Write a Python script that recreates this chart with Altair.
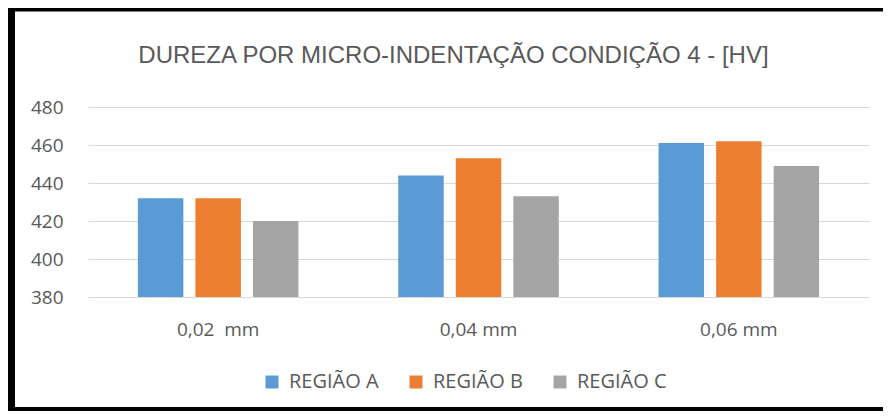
import altair as alt
import pandas as pd

categories = ["0,02\u00a0 mm", "0,04 mm", "0,06 mm"]
series = ["REGIÃO A", "REGIÃO B", "REGIÃO C"]
values_a = [432, 444, 461]
values_b = [432, 453, 462]
values_c = [420, 433, 449]
colors = ["#5B9BD5", "#ED7D31", "#A5A5A5"]
y_ticks = [380, 400, 420, 440, 460, 480]
title_text = "DUREZA POR MICRO-INDENTAÇÃO CONDIÇÃO 4 - [HV]"

rows = []
for s, vals in zip(series, [values_a, values_b, values_c]):
    for c, v in zip(categories, vals):
        rows.append({"cat": c, "serie": s, "valor": v})
df = pd.DataFrame(rows)

TXT = "#595959"

bars = alt.Chart(df).mark_bar().encode(
    x=alt.X("cat:N", sort=categories, title=None,
            scale=alt.Scale(paddingInner=0.34, paddingOuter=0.17),
            axis=alt.Axis(labelAngle=0, ticks=False, domainColor="#D9D9D9",
                          labelFont="Open Sans", labelFontSize=19, labelColor=TXT,
                          labelPadding=23)),
    xOffset=alt.XOffset("serie:N", sort=series,
                        scale=alt.Scale(paddingInner=0.21, paddingOuter=0.098)),
    y=alt.Y("valor:Q", title=None,
            scale=alt.Scale(domain=[380, 480], zero=False, nice=False),
            axis=alt.Axis(values=y_ticks, ticks=False, domain=False,
                          gridColor="#D9D9D9", gridWidth=1,
                          labelFont="Open Sans", labelFontSize=19, labelColor=TXT,
                          labelPadding=25)),
    y2=alt.datum(380),
    color=alt.Color("serie:N", sort=series,
                    scale=alt.Scale(domain=series, range=colors),
                    legend=alt.Legend(title=None, orient="none", legendX=174, legendY=265,
                                      direction="horizontal", symbolType="square",
                                      symbolSize=169, symbolStrokeWidth=0,
                                      labelFont="Open Sans", labelFontSize=20,
                                      labelColor=TXT, labelOffset=7, columnPadding=27,
                                      padding=0)),
)

one = pd.DataFrame({"t": [title_text]})
title = alt.Chart(one).mark_text(
    font="Liberation Sans", fontSize=24, color=TXT, align="center",
    baseline="alphabetic").encode(
    text="t:N", x=alt.value(365.5), y=alt.value(-44))

left_border = alt.Chart(one).mark_rule(color="black", strokeWidth=7).encode(
    x=alt.value(-76.5), y=alt.value(-99), y2=alt.value(304))
top_border = alt.Chart(one).mark_rule(color="black", strokeWidth=7).encode(
    x=alt.value(-80), x2=alt.value(800), y=alt.value(-99))
bottom_border = alt.Chart(one).mark_rule(color="black", strokeWidth=4).encode(
    x=alt.value(-80), x2=alt.value(800), y=alt.value(302))

chart = alt.layer(bars, title, left_border, top_border, bottom_border).properties(
    width=781, height=190,
    autosize="none",
    background="white",
    padding={"left": 80, "top": 99, "right": 14, "bottom": 114},
).configure_view(strokeWidth=0, stroke="transparent")

chart.save("out.html", embed_options={"renderer": "svg", "actions": False})
